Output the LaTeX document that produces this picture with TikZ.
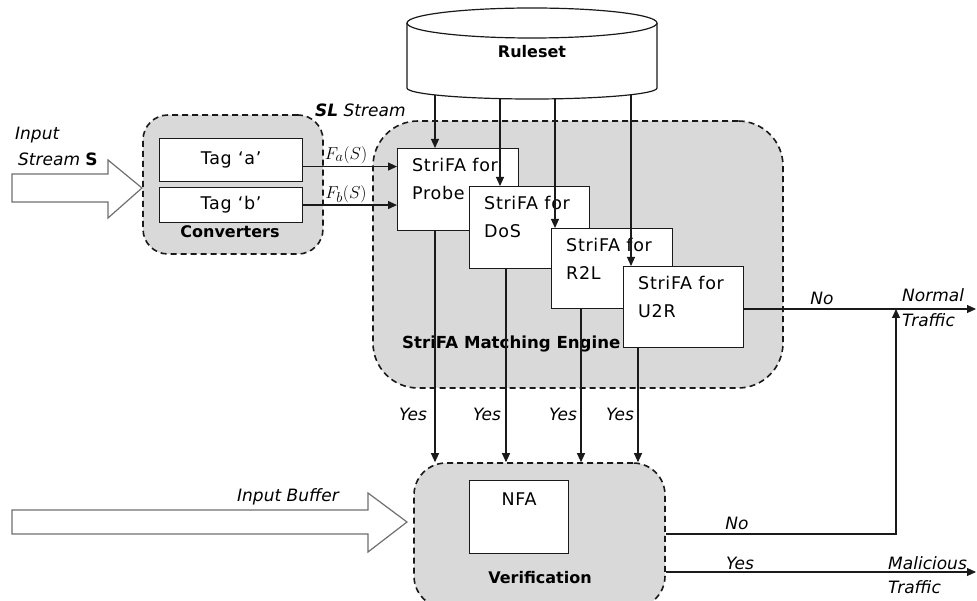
\documentclass[tikz,border=0pt]{standalone}
\usepackage{fontspec}
\setmainfont{DejaVu Sans}
\newfontfamily\widefont[LetterSpace=4]{DejaVu Sans}
\usetikzlibrary{arrows.meta}
\definecolor{panel}{HTML}{D9D9D9}
\definecolor{ink}{HTML}{1A1A1A}
\definecolor{hollow}{HTML}{707070}
\newcommand{\boxfont}{\widefont\fontsize{17.5}{28}\selectfont}
\newcommand{\labfont}{\fontsize{17}{20}\selectfont\itshape}
\newcommand{\boldfont}{\fontsize{16}{19}\selectfont\bfseries}
\tikzset{
  panelbox/.style={draw=ink, fill=panel, dash pattern=on 6pt off 4pt, line width=1.6pt, rounded corners=#1, inner sep=0pt},
  fabox/.style={draw=ink, fill=white, line width=1.1pt, inner sep=0pt, anchor=north west},
  fatext/.style={anchor=north west, align=left, inner sep=0pt, xshift=15pt, yshift=-10.5pt, font=\boxfont},
  lab/.style={font=\labfont, inner sep=0pt},
  boldlab/.style={font=\boldfont, inner sep=0pt},
  conn/.style={draw=ink, line width=1.1pt},
  arr/.style={conn, -{Triangle[length=9pt,width=8pt]}},
  bigarrow/.style={draw=hollow, fill=white, line width=1.2pt, line join=miter},
}
\begin{document}
\begin{tikzpicture}[x=1pt, y=-1pt]
\clip (0,0) rectangle (977,601);
\fill[white] (0,0) rectangle (977,601);

% ---------- Ruleset cylinder ----------
\fill[white] (407,23) -- (407,88) arc[start angle=180, end angle=360, x radius=125pt, y radius=11pt] -- (657,23) -- cycle;
\draw[conn, line width=1.2pt] (407,23) -- (407,88) arc[start angle=180, end angle=360, x radius=125pt, y radius=11pt] -- (657,23);
\draw[conn, fill=white, line width=1.2pt] (532,23) ellipse [x radius=125pt, y radius=15pt];
\node[boldlab] (ruleset) at (532,52) {Ruleset};
\coordinate (r1) at (435,95);
\coordinate (r2) at (500,98.6);
\coordinate (r3) at (555,98.8);
\coordinate (r4) at (631,94.7);

% ---------- Panels ----------
\node[panelbox=25pt, minimum width=180pt, minimum height=139pt] (conv) at (233,184.5) {};
\node[panelbox=45pt, minimum width=410pt, minimum height=267pt] (engine) at (578,254.5) {};
\node[panelbox=32pt, minimum width=251pt, minimum height=145pt] (verif) at (539.5,535.5) {};

% ---------- Converters ----------
\node[fabox, minimum width=143pt, minimum height=43pt, font=\boxfont] (taga) at (159,138) {Tag ‘a’};
\node[fabox, minimum width=143pt, minimum height=35pt, font=\boxfont] (tagb) at (159,187) {Tag ‘b’};
\node[boldlab] (convlab) at (230,232) {Converters};

% ---------- Engine ----------
\node[boldlab, anchor=west, font=\fontsize{16.6}{20}\selectfont\bfseries] (englab) at (402,344) {StriFA Matching Engine};
\node[fabox, minimum width=121pt, minimum height=82pt, label={[fatext]north west:StriFA for\\Probe}] (probe) at (397,148) {};
\node[fabox, minimum width=120pt, minimum height=82pt, label={[fatext]north west:StriFA for\\DoS}] (dos) at (469,186) {};
\node[fabox, minimum width=121pt, minimum height=80pt, label={[fatext]north west:StriFA for\\R2L}] (rtl) at (551,228) {};
\node[fabox, minimum width=120pt, minimum height=81pt, label={[fatext]north west:StriFA for\\U2R}] (utr) at (623,266) {};

% ---------- Verification ----------
\node[fabox, minimum width=99pt, minimum height=73pt, label={[anchor=north, inner sep=0pt, yshift=-13pt, font=\boxfont]north:NFA}] (nfa) at (469,480) {};
\node[boldlab] (veriflab) at (540,578) {Verification};

% ---------- Hollow input arrows ----------
\draw[bigarrow] (12,174) -- (108,174) -- (108,160) -- (142,188) -- (108,218) -- (108,202) -- (12,202) -- cycle;
\draw[bigarrow] (12,510) -- (368,510) -- (368,493) -- (407,522) -- (368,552) -- (368,534) -- (12,534) -- cycle;

% ---------- Ruleset connectors ----------
\draw[arr] (r1) -- (r1 |- probe.north);
\draw[arr] (r2) -- (r2 |- dos.north);
\draw[arr] (r3) -- (r3 |- rtl.north);
\draw[arr] (r4) -- (r4 |- utr.north);

% ---------- Converter outputs ----------
\draw[arr] ([yshift=-6.5pt]taga.east) -- ([yshift=-6.5pt]taga.east -| probe.west);
\draw[arr] (tagb.east) -- (tagb.east -| probe.west);

% ---------- Engine outputs (Yes) ----------
\coordinate (y1) at (435,0);
\coordinate (y2) at (506,0);
\coordinate (y3) at (581,0);
\coordinate (y4) at (638,0);
\draw[arr] (y1 |- probe.south) -- (y1 |- verif.north);
\draw[arr] (y2 |- dos.south) -- (y2 |- verif.north);
\draw[arr] (y3 |- rtl.south) -- (y3 |- verif.north);
\draw[arr] (y4 |- utr.south) -- (y4 |- verif.north);

% ---------- Outputs ----------
\coordinate (normal) at (976,309);
\coordinate (malic) at (976,572);
\coordinate (join) at (896,309);
\draw[arr] (utr.east |- normal) -- (normal);
\draw[arr] (verif.east |- 0,534) -- (join |- 0,534) -- (join);
\draw[arr] (verif.east |- malic) -- (malic);

% ---------- Labels ----------
\node[lab, anchor=west] (inlab1) at (15,135) {Input};
\node[lab, anchor=west] (inlab2) at (18,159) {Stream {\bfseries\upshape S}};
\node[lab, anchor=west] (sllab) at (315,110) {{\bfseries SL} Stream};
\node[inner sep=0pt, font=\fontsize{19}{22}\selectfont] (fa) at (346,155) {$F_a(S)$};
\node[inner sep=0pt, font=\fontsize{19}{22}\selectfont] (fb) at (346,194) {$F_b(S)$};
\node[lab] (yes1) at (413,414) {Yes};
\node[lab] (yes2) at (487,414) {Yes};
\node[lab] (yes3) at (563,414) {Yes};
\node[lab] (yes4) at (620,414) {Yes};
\node[lab] (no1) at (822,298) {No};
\node[lab, anchor=west] (normlab) at (902,295) {Normal};
\node[lab, anchor=west] (traf1) at (902,320) {Traffic};
\node[lab] (no2) at (737,523) {No};
\node[lab] (yes5) at (740,563) {Yes};
\node[lab, anchor=west] (mallab) at (888,563) {Malicious};
\node[lab, anchor=west] (traf2) at (888,587) {Traffic};
\node[lab, anchor=west] (buflab) at (237,497) {Input Buffer};
\end{tikzpicture}
\end{document}
